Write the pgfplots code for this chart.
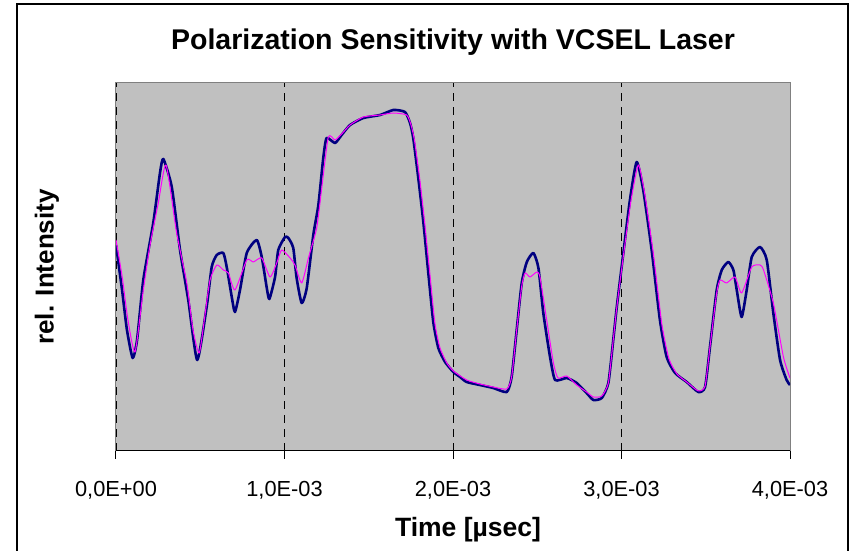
\documentclass[border=0pt]{standalone}
\usepackage{fontspec}
\setmainfont{Liberation Sans}
\usepackage{pgfplots}
\pgfplotsset{compat=1.18}
\definecolor{plotgray}{RGB}{192,192,192}
\definecolor{navyc}{RGB}{0,0,128}
\definecolor{magc}{RGB}{255,0,255}
\definecolor{edgegray}{RGB}{128,128,128}
\begin{document}
\begin{tikzpicture}[x=1pt,y=1pt]
\path[use as bounding box] (-116,-100) rectangle (736,451);
\draw[line width=1.3pt] (-99,-130) rectangle (732,447);
\begin{axis}[at={(0,0)}, anchor=south west, scale only axis,
 width=674pt, height=368pt,
 xmin=0, xmax=4, ymin=0, ymax=368,
 axis background/.style={fill=plotgray},
 axis line style={draw=edgegray, line width=1pt},
 xtick={0,1,2,3,4},
 xticklabels={{0,0E+00},{1,0E-03},{2,0E-03},{3,0E-03},{4,0E-03}},
 ytick=\empty,
 tick align=outside, major tick length=8pt,
 xtick pos=bottom,
 xtick style={black, line width=1pt},
 xmajorgrids, grid style={black, dash pattern=on 8pt off 6pt, line width=0.9pt},
 xticklabel style={font=\fontsize{21.8}{26}\selectfont, yshift=-19pt},
 ]
\addplot[navyc, line width=2.6pt, line join=round, smooth, tension=0.35] coordinates {
(0.000,206) (0.036,161) (0.065,121) (0.099,93) (0.125,111) (0.162,171)
(0.221,228) (0.261,278) (0.281,292) (0.331,264) (0.380,201) (0.429,151)
(0.482,91) (0.538,144) (0.568,184) (0.598,196) (0.637,198) (0.657,184)
(0.687,154) (0.706,139) (0.736,161) (0.776,198) (0.835,211) (0.865,194)
(0.894,164) (0.910,152) (0.944,174) (0.963,201) (1.003,214) (1.023,213)
(1.052,203) (1.072,173) (1.102,148) (1.132,163) (1.171,216) (1.201,246)
(1.230,293) (1.250,313) (1.300,308) (1.339,316) (1.389,326) (1.468,333)
(1.567,336) (1.646,341) (1.715,339) (1.745,328) (1.764,313) (1.794,273)
(1.824,229) (1.853,179) (1.883,129) (1.913,103) (1.953,89) (2.002,79)
(2.042,74) (2.081,69) (2.160,66) (2.239,63) (2.319,59) (2.348,74)
(2.378,121) (2.408,168) (2.438,189) (2.477,198) (2.507,183) (2.536,138)
(2.576,94) (2.606,71) (2.675,73) (2.734,68) (2.793,58) (2.833,51)
(2.883,53) (2.922,68) (2.951,111) (2.972,144) (3.011,198) (3.050,251)
(3.090,289) (3.129,261) (3.179,201) (3.228,131) (3.268,94) (3.318,78)
(3.387,69) (3.456,59) (3.496,64) (3.525,104) (3.565,161) (3.595,181)
(3.634,189) (3.664,181) (3.684,161) (3.713,134) (3.743,161) (3.773,194)
(3.822,204) (3.862,191) (3.901,138) (3.941,91) (3.980,71) (4.000,66)
};
\addplot[magc, line width=1pt, line join=round, smooth, tension=0.35] coordinates {
(0.000,211) (0.036,175) (0.071,131) (0.113,99) (0.162,161) (0.202,206)
(0.251,248) (0.297,286) (0.360,218) (0.420,168) (0.457,121) (0.494,98)
(0.528,136) (0.558,171) (0.598,186) (0.637,181) (0.667,178) (0.706,161)
(0.776,191) (0.815,189) (0.865,193) (0.914,174) (0.954,188) (0.983,201)
(1.033,193) (1.062,186) (1.102,168) (1.142,193) (1.191,223) (1.221,263)
(1.260,314) (1.300,311) (1.339,317) (1.389,326) (1.468,334) (1.567,336)
(1.646,338) (1.725,336) (1.751,326) (1.772,310) (1.804,270) (1.834,225)
(1.864,175) (1.893,127) (1.923,103) (1.963,88) (2.002,80) (2.081,71)
(2.160,67) (2.239,64) (2.319,62) (2.348,74) (2.378,121) (2.408,165)
(2.428,178) (2.457,174) (2.497,179) (2.516,174) (2.556,131) (2.596,88)
(2.623,73) (2.675,75) (2.734,66) (2.793,59) (2.833,54) (2.883,55)
(2.922,68) (2.951,111) (2.973,145) (3.015,200) (3.056,250) (3.100,286)
(3.139,256) (3.190,196) (3.240,126) (3.282,92) (3.329,77) (3.387,69)
(3.456,60) (3.496,65) (3.525,104) (3.565,158) (3.585,171) (3.624,168)
(3.674,174) (3.713,158) (3.773,184) (3.822,186) (3.843,181) (3.901,148)
(3.961,94) (4.000,73)
};
\draw[black, line width=1pt] (axis cs:0,0) -- (axis cs:4,0);
\end{axis}
\node[font=\fontsize{28.5}{34}\selectfont\bfseries] at (337,409) {Polarization Sensitivity with VCSEL Laser};
\node[font=\fontsize{26.5}{31}\selectfont\bfseries] at (352,-79) {Time [µsec]};
\node[font=\fontsize{26}{31}\selectfont\bfseries, rotate=90] at (-69,184) {rel. Intensity};
\end{tikzpicture}
\end{document}
